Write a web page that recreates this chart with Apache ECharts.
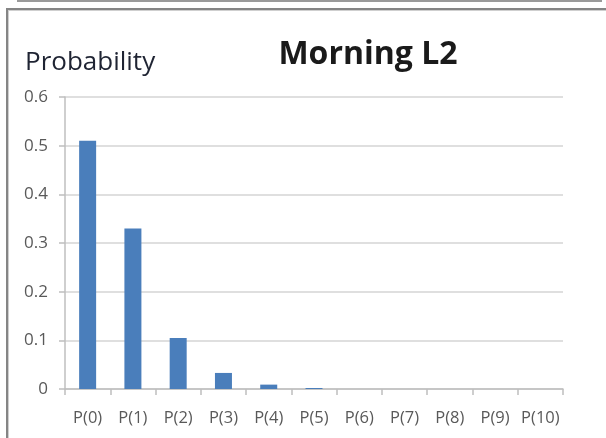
<!DOCTYPE html>
<html>
<head>
<meta charset="utf-8">
<style>
  html, body { margin: 0; padding: 0; background: #ffffff; }
  #chart { width: 606px; height: 438px; }
</style>
<script src="https://cdn.jsdelivr.net/npm/echarts@6/dist/echarts.min.js"></script>
</head>
<body>
<div id="chart"></div>
<script>
// Outcome categories and their probabilities
const categories = ['P(0)', 'P(1)', 'P(2)', 'P(3)', 'P(4)', 'P(5)', 'P(6)', 'P(7)', 'P(8)', 'P(9)', 'P(10)'];
const probabilities = [0.51, 0.33, 0.105, 0.033, 0.009, 0.002, 0, 0, 0, 0, 0];
const yTicks = [0, 0.1, 0.2, 0.3, 0.4, 0.5, 0.6];

const chart = echarts.init(document.getElementById('chart'), null, { renderer: 'canvas' });

const labelFont = '"Open Sans", "Noto Sans", sans-serif';

chart.setOption({
  animation: false,
  backgroundColor: '#ffffff',
  title: {
    text: 'Morning L2',
    left: 363,
    top: 34,
    textAlign: 'center',
    textStyle: {
      fontFamily: labelFont,
      fontWeight: 'bold',
      fontSize: 32,
      color: '#1a1a1a'
    }
  },
  graphic: [
    // frame strip above the chart area
    { type: 'rect', shape: { x: 17, y: 0, width: 585, height: 2 }, style: { fill: '#9a9a9a' } },
    // chart frame edges
    { type: 'rect', shape: { x: 6, y: 8, width: 600, height: 2 }, style: { fill: '#858585' } },
    { type: 'rect', shape: { x: 6, y: 10, width: 600, height: 1 }, style: { fill: '#cfcfcf' } },
    { type: 'rect', shape: { x: 6, y: 8, width: 2, height: 430 }, style: { fill: '#858585' } },
    { type: 'rect', shape: { x: 8, y: 10, width: 1, height: 428 }, style: { fill: '#cfcfcf' } },
    // axis title
    {
      type: 'text',
      left: 25,
      top: 50,
      style: {
        text: 'Probability',
        font: '26px ' + labelFont,
        fill: '#1f2433'
      }
    }
  ],
  grid: {
    left: 65,
    right: 43,
    top: 97,
    bottom: 49,
    containLabel: false
  },
  xAxis: {
    type: 'category',
    data: categories,
    boundaryGap: true,
    axisLine: { show: true, lineStyle: { color: '#bfbfbf', width: 1.5 } },
    axisTick: { show: true, alignWithLabel: false, length: 6, lineStyle: { color: '#bfbfbf', width: 1.5 } },
    axisLabel: {
      color: '#595959',
      fontFamily: labelFont,
      fontSize: 16.5,
      margin: 21,
      interval: 0
    },
    splitLine: { show: false }
  },
  yAxis: {
    type: 'value',
    min: yTicks[0],
    max: yTicks[yTicks.length - 1],
    interval: 0.1,
    axisLine: { show: true, lineStyle: { color: '#bfbfbf', width: 1.5 } },
    axisTick: { show: true, length: 6, lineStyle: { color: '#bfbfbf', width: 1.5 } },
    axisLabel: {
      color: '#595959',
      fontFamily: labelFont,
      fontSize: 17,
      margin: 17,
      formatter: function (v) {
        const hit = yTicks.find(function (t) { return Math.abs(t - v) < 1e-9; });
        return hit === undefined ? '' : String(hit);
      }
    },
    splitLine: { show: true, lineStyle: { color: '#d4d4d4', width: 1.5 } }
  },
  series: [{
    type: 'bar',
    data: probabilities,
    barWidth: 17,
    itemStyle: { color: '#4a7ebb' }
  }]
});
</script>
</body>
</html>
